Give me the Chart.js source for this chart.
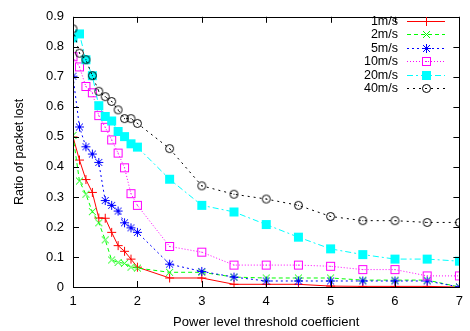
<!DOCTYPE html>
<html><head><meta charset="utf-8">
<script src="https://cdn.jsdelivr.net/npm/chart.js@4/dist/chart.umd.min.js"></script>
<style>html,body{margin:0;padding:0;background:#fff}#wrap{width:470px;height:331px;position:relative}</style>
</head><body><div id="wrap"><canvas id="c" width="470" height="331"></canvas></div>
<script>
const xValues = [1,1.1,1.2,1.3,1.4,1.5,1.6,1.7,1.8,1.9,2,2.5,3,3.5,4,4.5,5,5.5,6,6.5,7];
const seriesNames = ['1m/s','2m/s','5m/s','10m/s','20m/s','40m/s'];
const speed1  = [0.500,0.423,0.358,0.315,0.230,0.229,0.182,0.138,0.119,0.093,0.066,0.030,0.030,0.009,0.009,0.009,0.003,0.002,0.002,0.002,0.000];
const speed2  = [0.505,0.353,0.309,0.251,0.214,0.157,0.090,0.082,0.079,0.066,0.063,0.049,0.049,0.033,0.030,0.030,0.030,0.023,0.023,0.023,0.000];
const speed5  = [0.702,0.533,0.467,0.443,0.415,0.288,0.272,0.253,0.214,0.197,0.182,0.076,0.052,0.033,0.020,0.020,0.020,0.020,0.020,0.020,0.000];
const speed10 = [0.767,0.733,0.668,0.647,0.571,0.532,0.490,0.446,0.397,0.311,0.272,0.135,0.116,0.073,0.073,0.073,0.069,0.058,0.058,0.037,0.037];
const speed20 = [0.830,0.843,0.757,0.704,0.604,0.568,0.553,0.518,0.501,0.477,0.466,0.359,0.272,0.250,0.208,0.166,0.127,0.108,0.093,0.093,0.086];
const speed40 = [0.860,0.779,0.757,0.704,0.652,0.634,0.618,0.590,0.561,0.561,0.545,0.461,0.337,0.309,0.293,0.272,0.235,0.221,0.221,0.215,0.215];
const xTickLabels = ['1','2','3','4','5','6','7'];
const yTickLabels = ['0','0.1','0.2','0.3','0.4','0.5','0.6','0.7','0.8','0.9'];

const FONT = "'Liberation Sans', Arial, Helvetica, sans-serif";
const colors = ['#ff0000','#00ff00','#0000ff','#ff00ff','#00ffff','#000000'];
const dashes = [[], [4,3], [2,3], [1,2], [6,3,2,3], [2,4]];
const seriesValues = [speed1, speed2, speed5, speed10, speed20, speed40];

function makeMarker(kind, color){
  const c = document.createElement('canvas');
  c.width = 11; c.height = 11;
  const g = c.getContext('2d');
  g.strokeStyle = color; g.fillStyle = color; g.lineWidth = 1;
  g.beginPath();
  if (kind === 'plus' || kind === 'star'){
    g.moveTo(1,5.5); g.lineTo(10,5.5); g.moveTo(5.5,1); g.lineTo(5.5,10);
  }
  if (kind === 'x' || kind === 'star'){
    g.moveTo(2,2); g.lineTo(9,9); g.moveTo(9,2); g.lineTo(2,9);
  }
  g.stroke();
  if (kind === 'osq'){ g.strokeRect(1.5,1.5,8,8); g.fillRect(5,5,1,1); }
  if (kind === 'fsq'){ g.fillRect(1,1,9,9); }
  if (kind === 'ocirc'){ g.beginPath(); g.arc(5.5,5.5,4,0,Math.PI*2); g.stroke(); g.fillRect(5,5,1,1); }
  return c;
}
const markerKinds = ['plus','x','star','osq','fsq','ocirc'];
const markers = markerKinds.map((k,i)=>makeMarker(k, colors[i]));

const datasets = seriesNames.map((name,i)=>({
  label: name,
  data: xValues.map((x,j)=>({x:x, y:seriesValues[i][j]})),
  borderColor: colors[i],
  backgroundColor: colors[i],
  borderWidth: 1,
  borderDash: dashes[i],
  pointStyle: markers[i],
  pointRadius: 5,
  tension: 0,
  fill: false,
  order: 6 - i
}));

const framePlugin = {
  id: 'frame',
  afterDatasetsDraw(chart){
    const {ctx, chartArea: a, scales:{x, y}} = chart;
    ctx.save();
    ctx.strokeStyle = '#000'; ctx.lineWidth = 1;
    ctx.strokeRect(Math.round(a.left)+0.5, Math.round(a.top)+0.5, Math.round(a.right-a.left), Math.round(a.bottom-a.top));
    const tl = 6;
    ctx.beginPath();
    xTickLabels.forEach(t=>{
      const px = Math.round(x.getPixelForValue(parseFloat(t)))+0.5;
      ctx.moveTo(px, a.bottom); ctx.lineTo(px, a.bottom - tl);
      ctx.moveTo(px, a.top); ctx.lineTo(px, a.top + tl);
    });
    yTickLabels.forEach(t=>{
      const py = Math.round(y.getPixelForValue(parseFloat(t)))+0.5;
      ctx.moveTo(a.left, py); ctx.lineTo(a.left + tl, py);
      ctx.moveTo(a.right, py); ctx.lineTo(a.right - tl, py);
    });
    ctx.stroke();
    // legend
    ctx.font = '12.5px ' + FONT;
    ctx.textAlign = 'right'; ctx.textBaseline = 'middle'; ctx.fillStyle = '#000';
    const textRight = 398, x0 = 407, x1 = 445, y0 = 21, dy = 13.4;
    chart.data.datasets.forEach((ds,i)=>{
      const yy = Math.round(y0 + i*dy) + 0.5;
      ctx.fillStyle = '#000';
      ctx.fillText(ds.label, textRight, yy);
      ctx.save();
      ctx.strokeStyle = ds.borderColor; ctx.lineWidth = 1;
      ctx.setLineDash(ds.borderDash);
      ctx.beginPath(); ctx.moveTo(x0, yy); ctx.lineTo(x1, yy); ctx.stroke();
      ctx.restore();
      const m = ds.pointStyle;
      ctx.drawImage(m, Math.round((x0+x1)/2 - m.width/2), Math.round(yy - m.height/2));
    });
    ctx.restore();
  }
};

new Chart(document.getElementById('c'), {
  type: 'line',
  data: { datasets },
  options: {
    responsive: false,
    animation: false,
    devicePixelRatio: 1,
    layout: { padding: { top: 8, right: 9, left: 0, bottom: 0 } },
    plugins: { legend: { display: false }, tooltip: { enabled: false } },
    scales: {
      x: {
        type: 'linear', min: 1, max: 7,
        grid: { display: false, drawTicks: false },
        border: { display: false },
        ticks: { stepSize: 1, color: '#000', font: { family: FONT, size: 13 }, padding: 7,
          callback: (v)=> xTickLabels.includes(String(v)) ? String(v) : '' },
        title: { display: true, text: 'Power level threshold coefficient', color: '#000',
          font: { family: FONT, size: 13 }, padding: { top: 2, bottom: 1 } },
        afterFit(s){ s.height = 44; }
      },
      y: {
        type: 'linear', min: 0, max: 0.9,
        grid: { display: false, drawTicks: false },
        border: { display: false },
        ticks: { stepSize: 0.1, color: '#000', font: { family: FONT, size: 13 }, padding: 9,
          callback: (v)=> { const idx = Math.round(v*10); return yTickLabels[idx] ?? ''; } },
        title: { display: true, text: 'Ratio of packet lost', color: '#000',
          font: { family: FONT, size: 12.5 }, padding: { top: 12, bottom: 0 } },
        afterFit(s){ s.width = 73; }
      }
    }
  },
  plugins: [framePlugin]
});
</script></body></html>
